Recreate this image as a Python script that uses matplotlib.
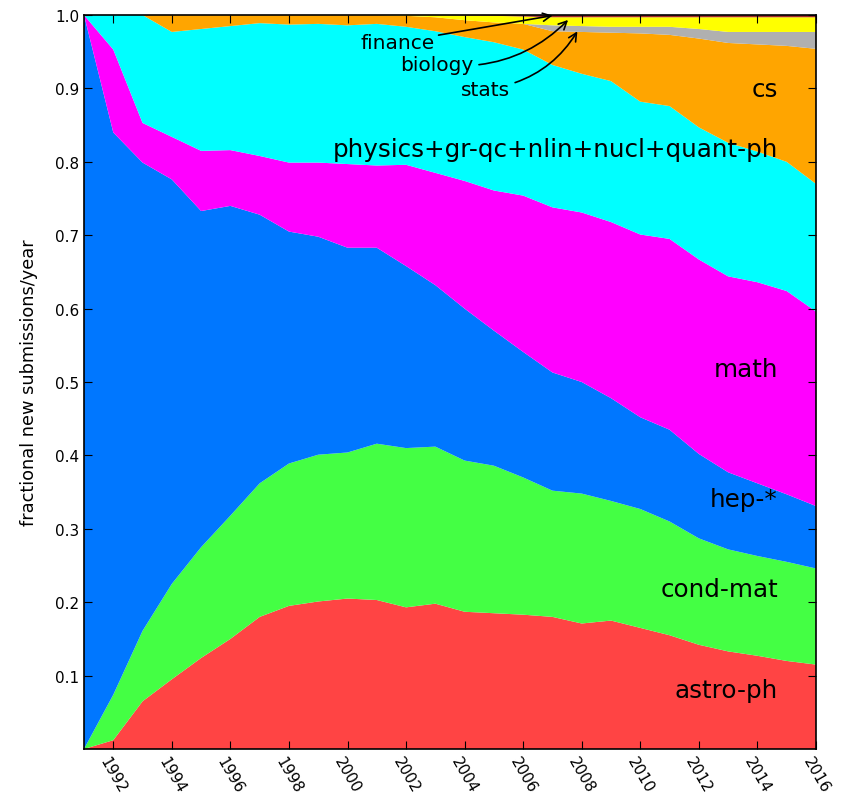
import numpy as np
import matplotlib.pyplot as plt

years = np.arange(1991, 2017)

# upper edge of each stacked layer (cumulative fraction)
astro_top = [0.0, 0.012, 0.065, 0.095, 0.124, 0.150, 0.180, 0.195, 0.201, 0.205, 0.203, 0.193, 0.198,
             0.187, 0.185, 0.183, 0.180, 0.171, 0.175, 0.165, 0.155, 0.142, 0.133, 0.127, 0.120, 0.115]
condmat_top = [0.0, 0.074, 0.161, 0.225, 0.275, 0.318, 0.362, 0.389, 0.401, 0.404, 0.416, 0.410, 0.412,
               0.393, 0.386, 0.370, 0.352, 0.348, 0.338, 0.327, 0.310, 0.287, 0.272, 0.263, 0.255, 0.246]
hep_top = [1.0, 0.840, 0.799, 0.776, 0.733, 0.740, 0.728, 0.705, 0.698, 0.683, 0.683, 0.658, 0.632,
           0.600, 0.570, 0.541, 0.513, 0.500, 0.478, 0.452, 0.435, 0.402, 0.377, 0.362, 0.347, 0.331]
math_top = [1.0, 0.953, 0.853, 0.834, 0.815, 0.816, 0.808, 0.799, 0.799, 0.797, 0.795, 0.796, 0.785,
            0.774, 0.761, 0.754, 0.738, 0.731, 0.718, 0.701, 0.695, 0.667, 0.644, 0.636, 0.624, 0.596]
physics_top = [1.0, 1.0, 1.0, 0.977, 0.981, 0.985, 0.989, 0.987, 0.988, 0.986, 0.988, 0.984, 0.978,
               0.970, 0.963, 0.953, 0.932, 0.920, 0.910, 0.882, 0.876, 0.847, 0.826, 0.814, 0.800, 0.770]
cs_top = [1.0, 1.0, 1.0, 1.0, 1.0, 1.0, 1.0, 1.0, 1.0, 1.0, 1.0, 0.999, 0.997,
          0.993, 0.990, 0.988, 0.978, 0.977, 0.976, 0.975, 0.973, 0.968, 0.962, 0.960, 0.958, 0.954]
stats_top = [1.0, 1.0, 1.0, 1.0, 1.0, 1.0, 1.0, 1.0, 1.0, 1.0, 1.0, 0.999, 0.997,
             0.993, 0.990, 0.988, 0.986, 0.985, 0.984, 0.984, 0.984, 0.981, 0.977, 0.977, 0.977, 0.977]
bio_top = [1.0, 1.0, 1.0, 1.0, 1.0, 1.0, 1.0, 1.0, 1.0, 1.0, 1.0, 1.0, 1.0,
           0.9995, 0.999, 0.998, 0.997, 0.997, 0.997, 0.997, 0.997, 0.997, 0.997, 0.997, 0.997, 0.997]
finance_top = [1.0] * 26

labels = ["astro-ph", "cond-mat", "hep-*", "math", "physics+gr-qc+nlin+nucl+quant-ph",
          "cs", "stats", "biology", "finance"]
colors = ["#ff4444", "#44ff44", "#0077ff", "#ff00ff", "#00ffff",
          "#ffa500", "#b0b0b0", "#ffff00", "#a52a2a"]

tops = np.array([astro_top, condmat_top, hep_top, math_top, physics_top,
                 cs_top, stats_top, bio_top, finance_top])
shares = np.diff(np.vstack([np.zeros(len(years)), tops]), axis=0)

fig = plt.figure(figsize=(8.46, 8.03), dpi=100)
ax = fig.add_axes([0.0993, 0.066, 0.8652, 0.914])
ax.stackplot(years, shares, colors=colors, linewidth=0)

ax.set_xlim(1991, 2016)
ax.set_ylim(0, 1)
ax.set_xticks(np.arange(1992, 2017, 2))
ax.set_yticks(np.arange(1, 11) / 10)
ax.set_yticklabels(["%.1f" % v for v in np.arange(1, 11) / 10])
ax.tick_params(direction="in", top=True, right=True, length=6, labelsize=11)
plt.setp(ax.get_xticklabels(), rotation=-60)
for s in ax.spines.values():
    s.set_linewidth(1.2)
ax.set_ylabel("fractional new submissions/year", fontsize=12.8, labelpad=12)

# big labels, right aligned
label_y = {"astro-ph": 0.080, "cond-mat": 0.218, "hep-*": 0.341, "math": 0.518,
           "physics+gr-qc+nlin+nucl+quant-ph": 0.817, "cs": 0.899}
for name, yv in label_y.items():
    ax.text(2014.7, yv, name, ha="right", va="center", fontsize=17.7)

arrow = dict(arrowstyle="->", color="black", lw=1.2)
ax.annotate("finance", xy=(2007.1, 1.0), xytext=(2001.7, 0.963), fontsize=14.5,
            ha="center", va="center",
            arrowprops=dict(arrow, shrinkA=1, connectionstyle="arc3,rad=0.0"))
ax.annotate("biology", xy=(2007.6, 0.996), xytext=(2003.05, 0.933), fontsize=14.5,
            ha="center", va="center",
            arrowprops=dict(arrow, shrinkA=2, connectionstyle="arc3,rad=0.25"))
ax.annotate("stats", xy=(2007.9, 0.981), xytext=(2004.7, 0.899), fontsize=14.5,
            ha="center", va="center",
            arrowprops=dict(arrow, shrinkA=2, connectionstyle="arc3,rad=0.25"))

plt.savefig("out.png")
